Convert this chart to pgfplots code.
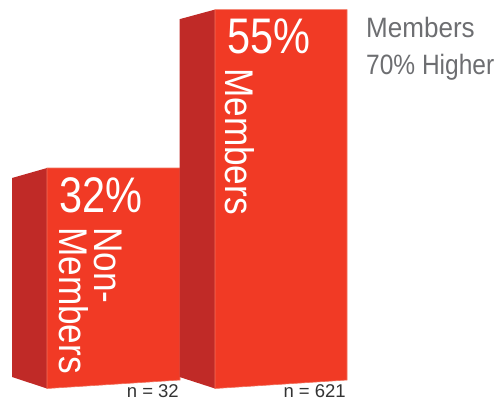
\documentclass[border=0pt]{standalone}
\usepackage{fontspec}
\setmainfont{Liberation Sans}
\newfontfamily\condA[FakeStretch=0.83]{Liberation Sans}
\newfontfamily\condB[FakeStretch=0.88]{Liberation Sans}
\newfontfamily\condC[FakeStretch=0.93]{Liberation Sans}
\newfontfamily\condD[FakeStretch=0.875]{Liberation Sans}
\usepackage{pgfplots}
\pgfplotsset{compat=1.18}
\definecolor{barfront}{HTML}{F13A25}
\definecolor{barside}{HTML}{C02A27}
\definecolor{baredge}{HTML}{F2705C}
\definecolor{greytxt}{HTML}{6D6E71}
\definecolor{ntxt}{HTML}{333333}
\newcommand{\px}[2]{(rel axis cs:{#1/495},{1-#2/400})}
\begin{document}
\begin{tikzpicture}
\useasboundingbox (0,0) rectangle (495pt,400pt);
\begin{axis}[
  at={(0,0)}, anchor=south west,
  scale only axis, width=495pt, height=400pt,
  xmin=0, xmax=495, ymin=-1.669, ymax=56.386,
  axis lines=none, clip=false, no markers,
]
% Non-members, front face reaches 32
\addplot[draw=none, fill=barside] coordinates {(12,30.55) (47,32) (47,0) (12,1.67)} -- cycle;
\addplot[draw=baredge, line width=0.6pt, fill=barfront] coordinates {(47,32) (180,32) (180,1.23) (47,0)} -- cycle;
% Members, front face reaches 55
\addplot[draw=none, fill=barside] coordinates {(179.5,53.6) (215,55) (215,0) (179.5,1.67)} -- cycle;
\addplot[draw=baredge, line width=0.6pt, fill=barfront] coordinates {(215,55) (347,55) (347,1.23) (215,0)} -- cycle;

\node[anchor=base west, inner sep=0, text=white, font=\condA\fontsize{50}{50}\selectfont] at \px{59}{213} {32\%};
\node[anchor=base west, inner sep=0, text=white, font=\condA\fontsize{50}{50}\selectfont] at \px{227}{54} {55\%};

\node[anchor=base west, inner sep=0, text=white, rotate=-90, font=\condB\fontsize{40}{40}\selectfont] at \px{60}{227} {Members};
\node[anchor=base west, inner sep=0, text=white, rotate=-90, font=\condB\fontsize{40}{40}\selectfont] at \px{95}{227} {Non-};
\node[anchor=base west, inner sep=0, text=white, rotate=-90, font=\condB\fontsize{40}{40}\selectfont] at \px{226}{68} {Members};

\node[anchor=base west, inner sep=0, text=greytxt, font=\condC\fontsize{28}{28}\selectfont] at \px{366}{37} {Members};
\node[anchor=base west, inner sep=0, text=greytxt, font=\condD\fontsize{28}{28}\selectfont] at \px{366}{74} {70\% Higher};

\node[anchor=base east, inner sep=0, text=ntxt, font=\fontsize{18.5}{18.5}\selectfont] at \px{179}{397} {n = 32};
\node[anchor=base east, inner sep=0, text=ntxt, font=\fontsize{18.5}{18.5}\selectfont] at \px{346}{397} {n = 621};
\end{axis}
\end{tikzpicture}
\end{document}
